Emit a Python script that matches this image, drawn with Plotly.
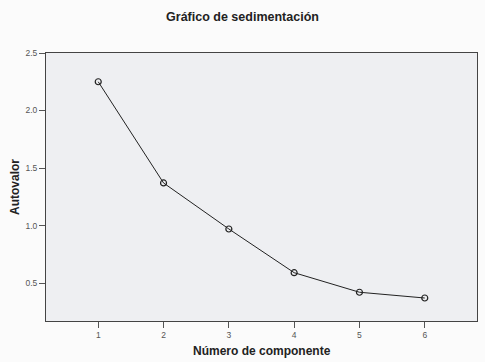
import plotly.graph_objects as go

componentes = [1, 2, 3, 4, 5, 6]
autovalores = [2.25, 1.37, 0.97, 0.59, 0.42, 0.37]
x_ticks = [1, 2, 3, 4, 5, 6]
y_ticks = [0.5, 1.0, 1.5, 2.0, 2.5]
y_tick_labels = ["0.5", "1.0", "1.5", "2.0", "2.5"]

W, H = 485, 362
L, R, T, B = 46, 8, 53, 41

fig = go.Figure()
fig.add_trace(go.Scatter(
    x=componentes, y=autovalores, mode="lines+markers",
    line=dict(color="#222222", width=1),
    marker=dict(symbol="circle-open", size=6, color="#222222", line=dict(width=1.2)),
    showlegend=False,
))

fig.update_layout(
    width=W, height=H,
    margin=dict(l=L, r=R, t=T, b=B, autoexpand=False),
    paper_bgcolor="#fbfbfb",
    plot_bgcolor="#eeeff2",
    font=dict(family="Liberation Sans, Arial, sans-serif", color="#333333"),
    title=dict(text="<b>Gráfico de sedimentación</b>", x=0.5, xanchor="center",
               y=1 - 17/H, yanchor="middle", font=dict(size=12.5, color="#222222")),
    annotations=[
        dict(text="<b>Número de componente</b>", xref="paper", yref="paper",
             x=0.5, y=-(351 - (H - B)) / (H - T - B), xanchor="center", yanchor="middle",
             showarrow=False, font=dict(size=12, color="#222222")),
        dict(text="<b>Autovalor</b>", xref="paper", yref="paper", textangle=-90,
             x=-(L - 15) / (W - L - R), y=0.5, xanchor="center", yanchor="middle",
             showarrow=False, font=dict(size=12, color="#222222")),
    ],
)
fig.update_xaxes(
    range=[0.2, 6.8], tickvals=x_ticks, ticks="outside", ticklen=6, tickcolor="#555555",
    tickfont=dict(size=8.5, color="#555555"), showgrid=False, zeroline=False,
    showline=True, linecolor="#444444", mirror=True, linewidth=1, automargin=False,
)
fig.update_yaxes(
    range=[0.17, 2.5], tickvals=y_ticks, ticktext=y_tick_labels, ticks="outside", ticklen=6,
    tickcolor="#555555", tickfont=dict(size=8.5, color="#555555"), showgrid=False, zeroline=False,
    showline=True, linecolor="#444444", mirror=True, linewidth=1, automargin=False,
)

fig.write_html("out.html", config={"displayModeBar": False},
               post_script="document.body.style.margin='0';document.body.style.padding='0';")
